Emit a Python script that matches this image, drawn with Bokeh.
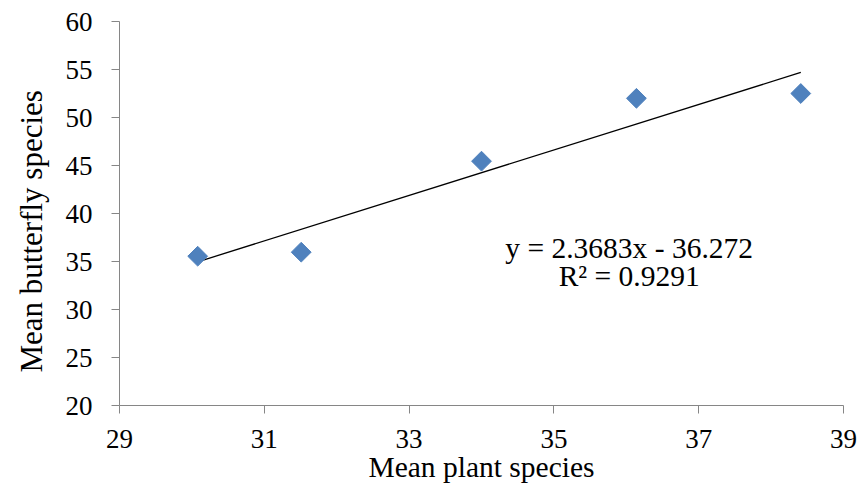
import numpy as np
from bokeh.plotting import figure
from bokeh.models import Label, Range1d, FixedTicker, Title
from bokeh.embed import file_html
from bokeh.resources import INLINE

# Data
plant_species = [30.08, 31.51, 34.0, 36.14, 38.41]
butterfly_species = [35.55, 35.97, 45.45, 52.0, 52.5]
slope = 2.3683
intercept = -36.272
r_squared = 0.9291
x_ticks = [29, 31, 33, 35, 37, 39]
y_ticks = [20, 25, 30, 35, 40, 45, 50, 55, 60]

FONT = "Liberation Serif"

p = figure(width=859, height=499, output_backend="svg", toolbar_location=None,
           x_range=Range1d(29, 39), y_range=Range1d(20, 60),
           min_border_left=119, min_border_right=16, min_border_top=21, min_border_bottom=94)
p.background_fill_color = "white"
p.outline_line_color = None
p.xgrid.visible = False
p.ygrid.visible = False

for ax in (p.xaxis, p.yaxis):
    ax.axis_line_color = "#868686"
    ax.major_tick_line_color = "#868686"
    ax.minor_tick_line_color = None
    ax.major_tick_in = 0
    ax.major_tick_out = 8
    ax.major_label_text_font = FONT
    ax.major_label_text_font_size = "27px"
    ax.major_label_text_color = "black"

p.xaxis.ticker = FixedTicker(ticks=x_ticks)
p.yaxis.ticker = FixedTicker(ticks=y_ticks)
p.xaxis.major_label_standoff = 16
p.yaxis.major_label_standoff = 19

p.xaxis.axis_label = "Mean plant species"
p.xaxis.axis_label_text_font = FONT
p.xaxis.axis_label_text_font_size = "29.5px"
p.xaxis.axis_label_text_font_style = "normal"
p.xaxis.axis_label_text_color = "black"
p.xaxis.axis_label_standoff = 0

ytitle = Title(text="Mean butterfly species", align="left", offset=33,
               vertical_align="top", standoff=23,
               text_font=FONT, text_font_size="31px", text_font_style="normal",
               text_color="black")
p.add_layout(ytitle, "left")

# Trendline from the fitted equation across the data range
xs = np.array([min(plant_species), max(plant_species)])
p.line(xs, slope * xs + intercept, line_color="black", line_width=1.3)

p.scatter(plant_species, butterfly_species, marker="square", size=14, angle=np.pi / 4,
          fill_color="#4F81BD", line_color="#4F81BD", line_width=1)

p.add_layout(Label(x=36.04, y=36.39, text=f"y = {slope}x - {abs(intercept)}",
                   text_font=FONT, text_font_size="29.5px", text_align="center",
                   text_baseline="alphabetic", text_color="black"))
p.add_layout(Label(x=36.04, y=33.47, text=f"R² = {r_squared}",
                   text_font=FONT, text_font_size="29.5px", text_align="center",
                   text_baseline="alphabetic", text_color="black"))

open("out.html", "w").write(file_html(p, INLINE))
